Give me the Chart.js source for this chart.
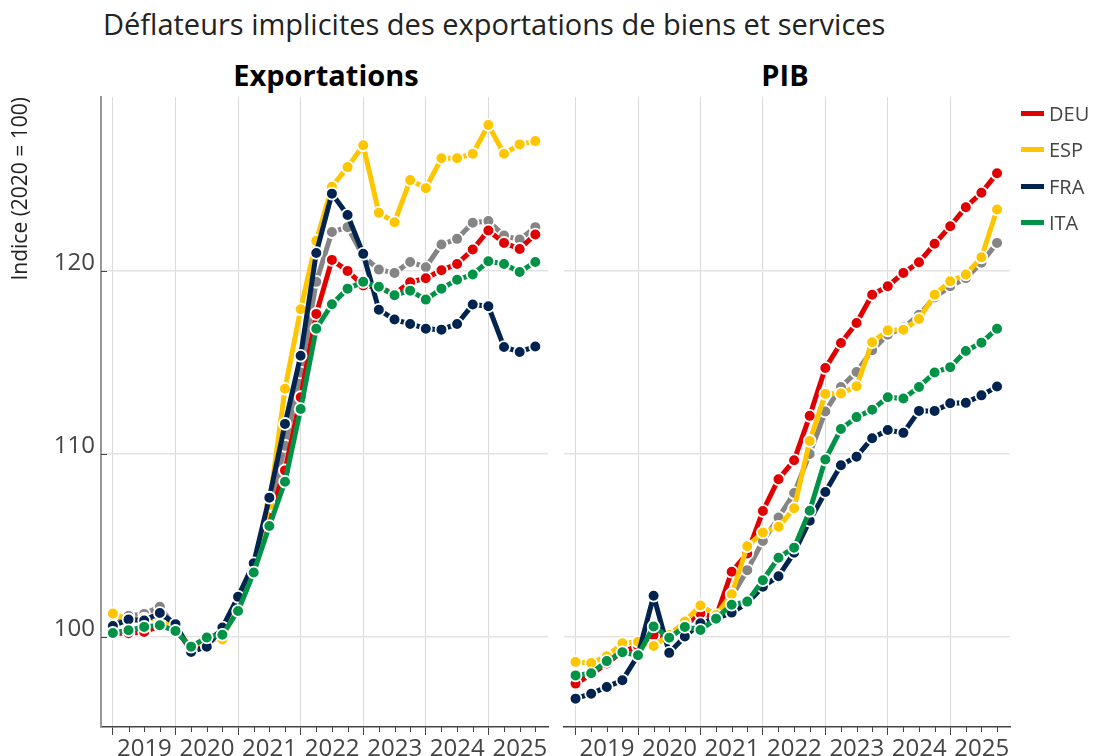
<!DOCTYPE html>
<html><head><meta charset="utf-8">
<script src="https://cdn.jsdelivr.net/npm/chart.js@4"></script>
<style>
body{margin:0;background:#fff;width:1095px;height:756px;overflow:hidden;position:relative;font-family:'Open Sans',sans-serif}
#title{position:absolute;left:103px;top:9px;font-size:29px;line-height:29px;color:#222;white-space:nowrap}
.sub{position:absolute;top:60px;font-size:29px;line-height:29px;font-weight:bold;color:#000;text-align:center;white-space:nowrap}
canvas{position:absolute;top:0}
#legend{position:absolute;left:1021px;top:95px}
.li{height:36.5px;display:flex;align-items:center;font-size:20px;color:#444;white-space:nowrap}
.sw{width:23px;height:5px;margin-right:5px}
</style></head>
<body>
<div id="title">Déflateurs implicites des exportations de biens et services</div>
<div class="sub" style="left:101px;width:450px">Exportations</div>
<div class="sub" style="left:560px;width:450px">PIB</div>
<canvas id="c1" width="556" height="756" style="left:0"></canvas>
<canvas id="c2" width="539" height="756" style="left:556px"></canvas>
<div id="legend"></div>
<script>
// ---- data ----
const years = ['2019','2020','2021','2022','2023','2024','2025'];
const quarters = [];
years.forEach(y => { for (let q = 1; q <= 4; q++) quarters.push(y + '-T' + q); });

const seriesNames = ['DEU','ESP','FRA','ITA'];
const seriesColors = ['#e00000','#ffc600','#00234f','#009246'];
const zoneColor = '#858585';

// Exportations
const deuExp = [100.2,100.2,100.27,100.6,100.4,99.35,99.9,100.1,101.8,103.8,106.5,109.1,113.1,117.65,120.6,120.0,119.2,119.1,118.75,119.38,119.6,120.03,120.38,121.17,122.21,121.53,121.2,121.99];
const espExp = [101.28,100.95,101.0,101.0,100.5,99.4,99.9,99.86,101.8,103.9,107.2,113.56,117.9,121.64,124.6,125.67,126.86,123.17,122.66,124.96,124.52,126.15,126.15,126.4,127.97,126.4,126.91,127.09];
const fraExp = [100.6,100.95,100.9,101.31,100.7,99.18,99.47,100.52,102.19,104.03,107.61,111.64,115.36,120.98,124.22,123.05,120.93,117.88,117.34,117.1,116.84,116.79,117.1,118.16,118.07,115.84,115.57,115.87];
const itaExp = [100.22,100.37,100.55,100.64,100.33,99.47,99.97,100.12,101.42,103.52,106.06,108.48,112.45,116.84,118.18,119.03,119.4,119.13,118.67,118.92,118.43,119.03,119.52,119.8,120.53,120.38,119.94,120.49];
const zoneExp = [100.6,101.15,101.26,101.65,100.5,99.35,99.9,100.3,101.9,103.9,106.9,110.44,114.45,119.4,122.12,122.39,120.8,120.07,119.89,120.49,120.2,121.44,121.75,122.63,122.72,121.93,121.71,122.39];

// PIB
const deuPib = [97.45,97.95,98.55,99.2,99.5,100.1,100.0,100.7,101.28,101.1,103.56,104.56,106.88,108.62,109.65,112.08,114.69,116.06,117.15,118.7,119.16,119.89,120.47,121.48,122.44,123.48,124.27,125.33];
const espPib = [98.63,98.58,98.95,99.65,99.74,99.51,100.1,100.84,101.72,101.2,102.33,104.96,105.71,106.02,107.03,110.71,113.28,113.3,113.7,116.1,116.75,116.79,117.37,118.7,119.43,119.8,120.74,123.35];
const fraPib = [96.63,96.9,97.27,97.63,99.0,102.25,99.13,100.02,100.75,101.0,101.33,101.85,102.74,103.32,104.6,106.35,107.92,109.38,109.85,110.86,111.31,111.15,112.35,112.35,112.77,112.79,113.2,113.68];
const itaPib = [97.9,98.02,98.68,99.16,99.0,100.57,99.96,100.55,100.38,101.0,101.76,101.93,103.1,104.33,104.88,106.89,109.69,111.36,112.01,112.41,113.1,113.03,113.66,114.45,114.74,115.62,116.08,116.84];
const zonePib = [97.7,98.0,98.6,99.3,99.3,100.2,100.0,100.75,101.1,101.1,102.2,103.65,105.24,106.52,107.86,110.0,112.32,113.65,114.48,115.67,116.51,116.9,117.6,118.55,119.16,119.6,120.44,121.53];

const yTickValues = [100,110,120];

// ---- chart helpers ----
Chart.defaults.font.family = "'Open Sans', sans-serif";
Chart.defaults.color = '#444';

function ds(label, vals, color, order) {
  return {
    label, order,
    data: vals.map((v, i) => ({x: i, y: v})),
    borderColor: color, backgroundColor: color,
    pointBackgroundColor: color, pointBorderColor: '#fff',
    pointBorderWidth: 1.8, pointRadius: 5.9, pointHoverRadius: 5.9,
    borderWidth: 5, borderJoinStyle: 'round', borderCapStyle: 'round',
    tension: 0, clip: false
  };
}

const axisDeco = {
  id: 'axisDeco',
  afterDraw(chart, args, opts) {
    const {ctx, chartArea, scales: {x, y}} = chart;
    ctx.save();
    ctx.strokeStyle = '#444';
    ctx.lineWidth = 1;
    x.ticks.forEach(t => {
      if (t.value % 4 !== 0) {
        const px = Math.round(x.getPixelForValue(t.value)) + 0.5;
        ctx.beginPath(); ctx.moveTo(px, chartArea.bottom); ctx.lineTo(px, chartArea.bottom + 5); ctx.stroke();
      }
    });
    if (opts.yTicks) {
      y.ticks.forEach(t => {
        const py = Math.round(y.getPixelForValue(t.value)) + 0.5;
        ctx.beginPath(); ctx.moveTo(chartArea.left, py); ctx.lineTo(chartArea.left + 6, py); ctx.stroke();
      });
    }
    ctx.restore();
  }
};

function makeChart(id, data, isLeft) {
  const datasets = [
    ds('ZE', data[4], zoneColor, 4),
    ds(seriesNames[0], data[0], seriesColors[0], 3),
    ds(seriesNames[1], data[1], seriesColors[1], 2),
    ds(seriesNames[2], data[2], seriesColors[2], 1),
    ds(seriesNames[3], data[3], seriesColors[3], 0)
  ];
  return new Chart(document.getElementById(id), {
    type: 'line',
    data: {datasets},
    plugins: [axisDeco],
    options: {
      responsive: false, animation: false, devicePixelRatio: 1,
      layout: {padding: {top: 97, bottom: 0, left: isLeft ? 0 : 4, right: isLeft ? 5 : 85}},
      plugins: {legend: {display: false}, tooltip: {enabled: false}, axisDeco: {yTicks: isLeft}},
      scales: {
        x: {
          type: 'linear', min: -0.76, max: quarters.length - 1 + 0.83,
          afterBuildTicks: s => { s.ticks = quarters.map((q, i) => ({value: i})); },
          afterFit: s => { s.height = 29; s.paddingLeft = 0; s.paddingRight = 0; },
          ticks: {
            autoSkip: false, maxRotation: 0, padding: 0, labelOffset: 31.5,
            font: {size: 24}, color: '#444',
            callback: v => (v % 4 === 0 ? years[v / 4] : '')
          },
          grid: {
            color: c => (c.tick && c.tick.value % 4 === 0 ? '#dadada' : 'rgba(0,0,0,0)'),
            lineWidth: 1, tickLength: 8,
            tickColor: c => (c.tick && c.tick.value % 4 === 0 ? '#444' : 'rgba(0,0,0,0)'),
            tickWidth: 1
          },
          border: {display: true, color: '#444', width: 1.5}
        },
        y: {
          min: 95.08, max: 129.5,
          afterBuildTicks: s => { s.ticks = yTickValues.map(v => ({value: v})); },
          afterFit: s => { s.width = isLeft ? 101 : 0; },
          ticks: {display: isLeft, font: {size: 24}, color: '#444', padding: 6, labelOffset: -8},
          grid: {color: '#e3e3e3', lineWidth: 1.5, drawTicks: false},
          border: {display: isLeft, color: '#999', width: 2},
          title: isLeft ? {display: true, text: 'Indice (2020 = 100)', align: 'end', font: {size: 21}, color: '#222', padding: {top: 8, bottom: 0}} : {display: false}
        }
      }
    }
  });
}

makeChart('c1', [deuExp, espExp, fraExp, itaExp, zoneExp], true);
makeChart('c2', [deuPib, espPib, fraPib, itaPib, zonePib], false);

// legend
const leg = document.getElementById('legend');
seriesNames.forEach((n, i) => {
  const d = document.createElement('div'); d.className = 'li';
  const sw = document.createElement('span'); sw.className = 'sw'; sw.style.background = seriesColors[i];
  d.appendChild(sw); d.appendChild(document.createTextNode(n)); leg.appendChild(d);
});
</script>
</body></html>
